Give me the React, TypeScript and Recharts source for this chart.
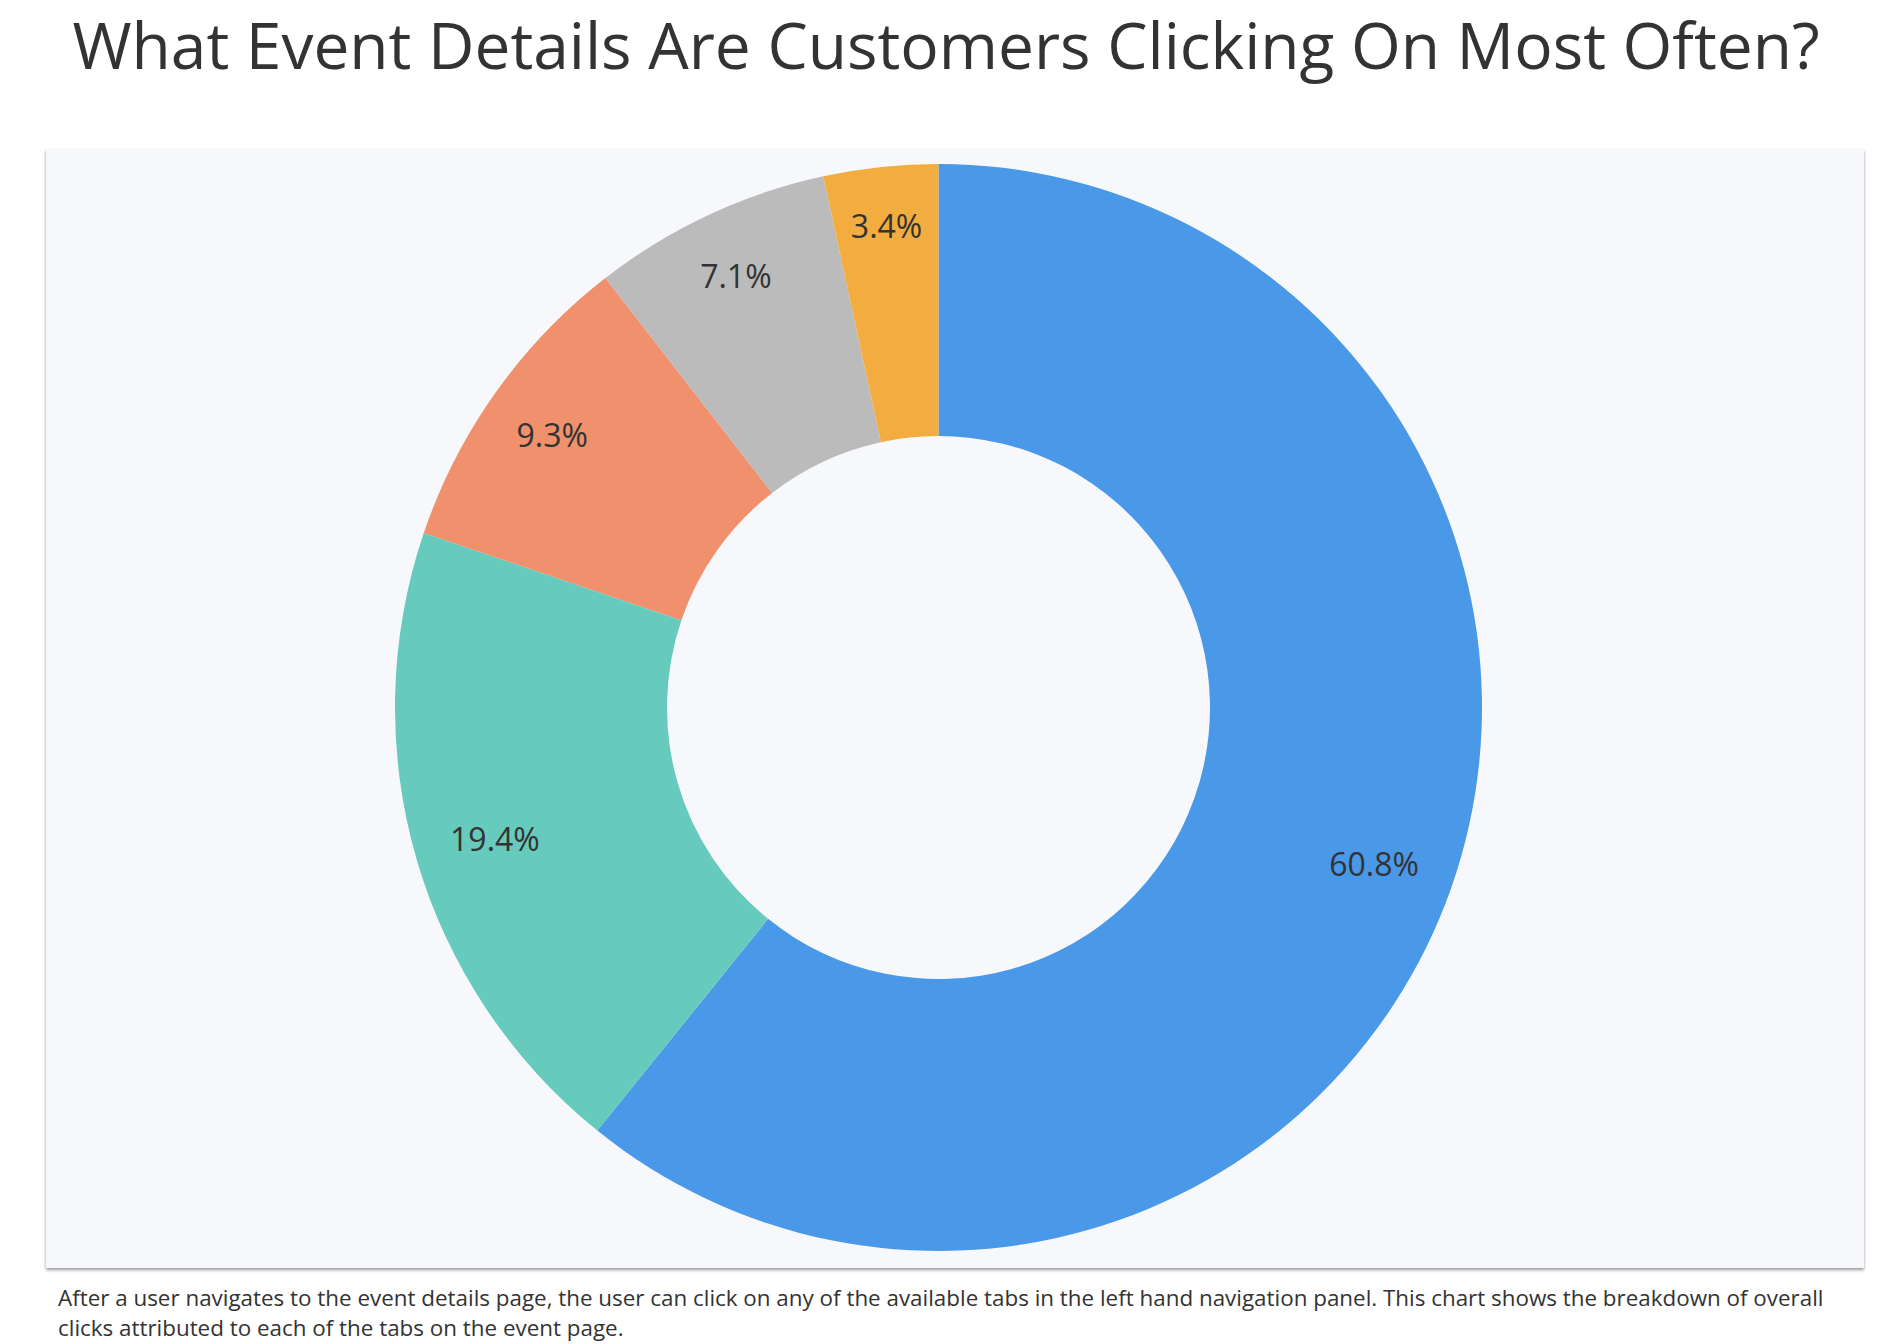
import { PieChart, Pie, Cell } from "recharts";

const tabs = ["Overview", "Agenda", "Speakers", "Sponsors", "Location"];
const shares = [60.8, 19.4, 9.3, 7.1, 3.4];
const colors = ["#4a98e8", "#66cabc", "#f0906d", "#bbbbbb", "#f3ac3f"];

const data = tabs.map((name, i) => ({ name, value: shares[i] }));

const RAD = Math.PI / 180;

function renderLabel(props: any) {
  const { cx, cy, midAngle, innerRadius, outerRadius, value } = props;
  // narrow slices push their text out towards the wide end
  const frac = value >= 15 ? 0.7 : 0.82 - value * 0.008;
  const r = innerRadius + (outerRadius - innerRadius) * frac;
  const x = cx + r * Math.cos(-midAngle * RAD);
  const y = cy + r * Math.sin(-midAngle * RAD);
  return (
    <text
      x={x}
      y={y + 2}
      fill="#333"
      fontSize={32}
      fontFamily="'Open Sans', sans-serif"
      textAnchor="middle"
      dominantBaseline="central"
    >
      {value.toFixed(1)}%
    </text>
  );
}

export default function App() {
  return (
    <div
      style={{
        position: "absolute",
        left: 0,
        top: 0,
        width: 1892,
        height: 1344,
        background: "#fff",
        fontFamily: "'Open Sans', sans-serif",
        color: "#333",
      }}
    >
      <div
        style={{
          position: "absolute",
          left: 0,
          width: 1892,
          top: 0,
          textAlign: "center",
          fontSize: 64,
          lineHeight: "90px",
        }}
      >
        What Event Details Are Customers Clicking On Most Often?
      </div>

      <div
        style={{
          position: "absolute",
          left: 46,
          top: 149,
          width: 1818,
          height: 1119,
          background: "#f7f8fc",
          boxShadow: "0 2px 3px rgba(0,0,0,0.4)",
        }}
      >
        <PieChart
          width={1818}
          height={1119}
          margin={{ top: 0, right: 0, bottom: 0, left: 0 }}
        >
          <Pie
            data={data}
            dataKey="value"
            nameKey="name"
            cx={892.5}
            cy={558.5}
            innerRadius={271.5}
            outerRadius={543.5}
            startAngle={90}
            endAngle={-270}
            stroke="none"
            labelLine={false}
            label={renderLabel}
            isAnimationActive={false}
          >
            {data.map((d, i) => (
              <Cell key={d.name} fill={colors[i]} />
            ))}
          </Pie>
        </PieChart>
      </div>

      <div
        style={{
          position: "absolute",
          left: 58,
          top: 1283,
          width: 1800,
          fontSize: 22.4,
          lineHeight: "30px",
        }}
      >
        After a user navigates to the event details page, the user can click on
        any of the available tabs in the left hand navigation panel. This chart
        shows the breakdown of overall clicks attributed to each of the tabs on
        the event page.
      </div>
    </div>
  );
}
